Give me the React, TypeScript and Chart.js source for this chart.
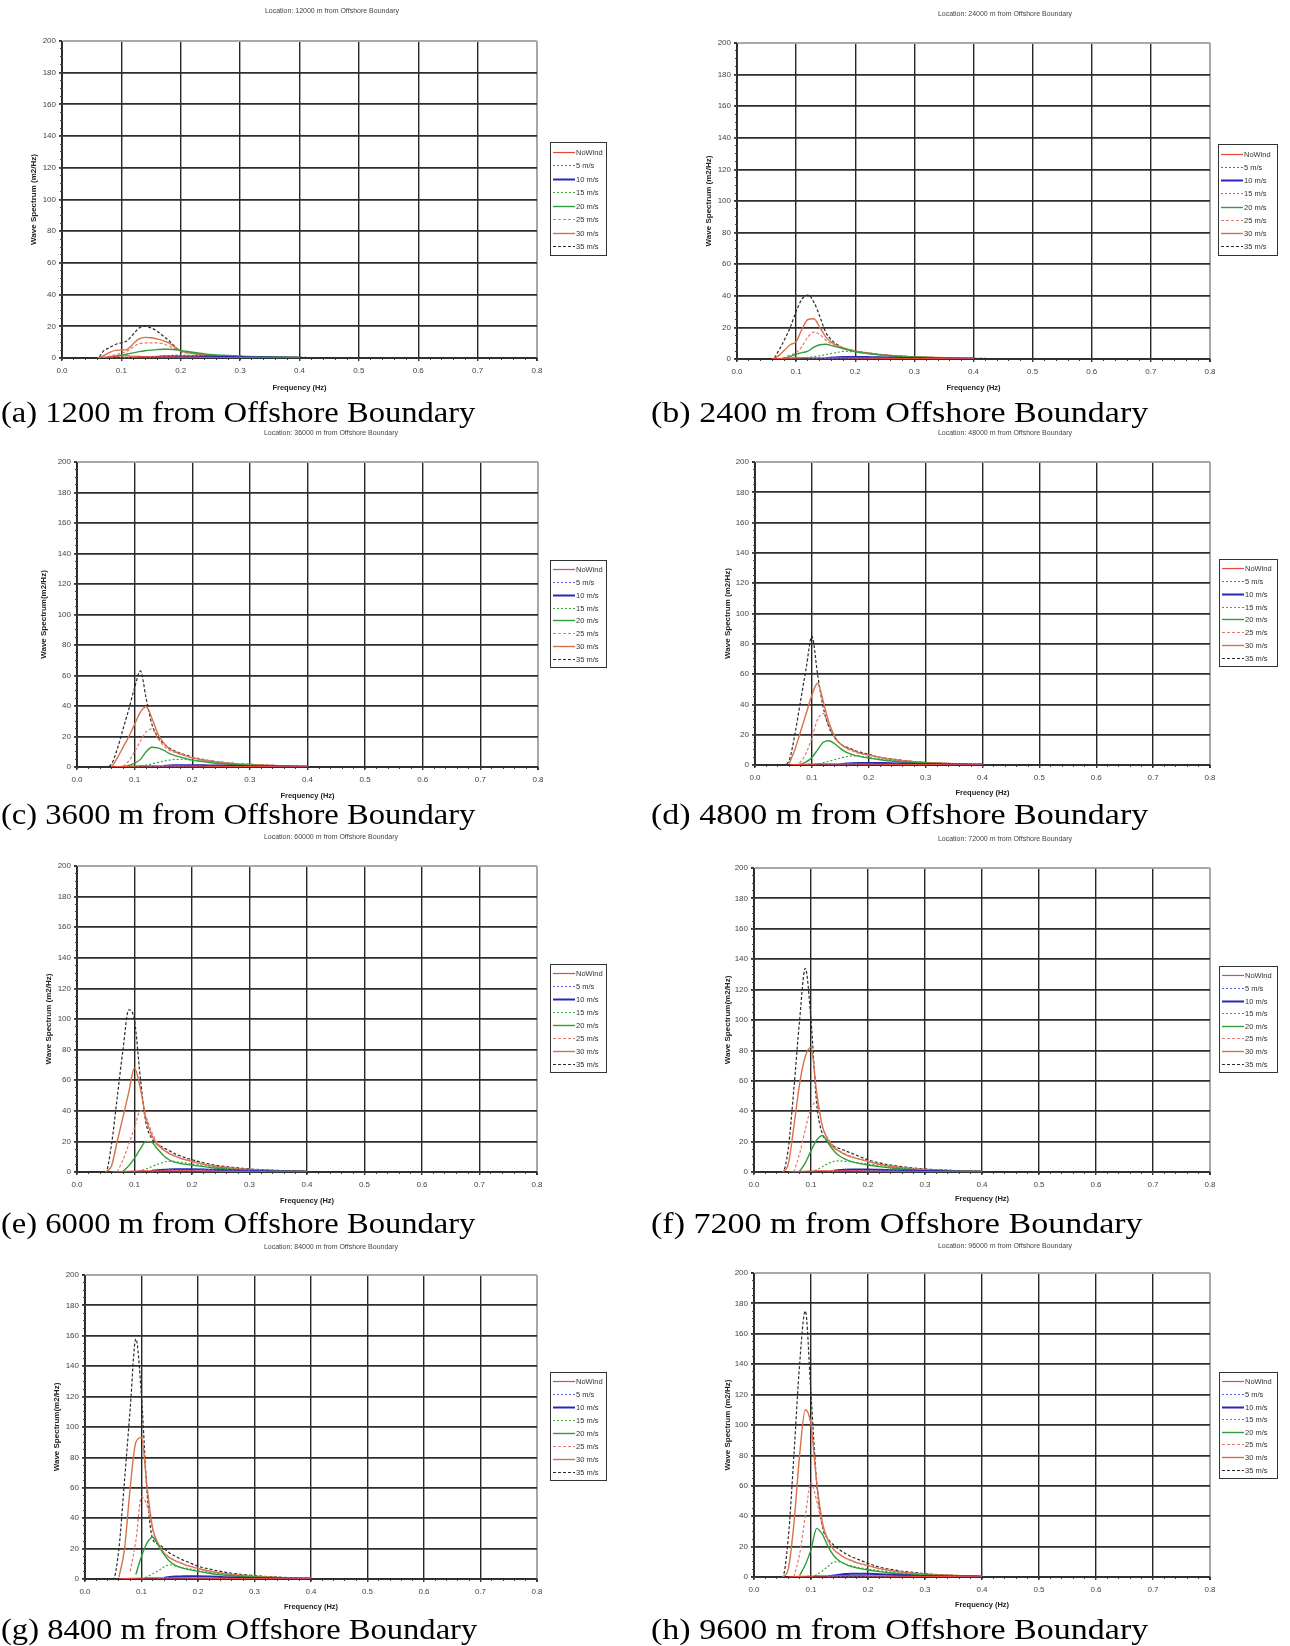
import React, { useEffect, useRef } from 'react';
import { Chart, registerables } from 'chart.js';

Chart.register(...registerables);

const _ = null;

// Frequency grid (Hz)
const FREQ = [0.03, 0.04, 0.05, 0.06, 0.07, 0.08, 0.09, 0.10, 0.11, 0.12, 0.13, 0.14, 0.15, 0.16, 0.17, 0.18, 0.20, 0.22, 0.24, 0.26, 0.28, 0.30, 0.35, 0.40, 0.45];
const SERIES_LABELS = ['NoWind', '5 m/s', '10 m/s', '15 m/s', '20 m/s', '25 m/s', '30 m/s', '35 m/s'];
const X_MIN = 0, X_MAX = 0.8, X_STEP = 0.1;
const Y_MIN = 0, Y_MAX = 200, Y_STEP = 20;

// (a) 12000 m
const A_NOWIND = [_, _, _, 0, 0.3, 0.8, 1.2, 1.4, 1.3, 1.1, 1, 0.9, 0.8, 0.8, 0.7, 0.7, 0.6, 0.5, 0.4, 0.3, 0.3, 0.2, 0.1, 0.1, _];
const A_5 = [_, _, _, _, _, _, _, _, _, 0.1, 0.1, 0.2, 0.2, 0.3, 0.3, 0.3, 0.3, 0.3, 0.3, 0.2, 0.2, 0.2, 0.1, 0.1, _];
const A_10 = [_, _, _, _, _, _, _, _, _, _, _, _, 0.3, 0.7, 0.9, 1, 1, 1, 0.9, 0.8, 0.6, 0.5, 0.3, 0.2, _];
const A_15 = [_, _, _, _, 0, 0, 0.1, 0.2, 0.3, 0.4, 0.5, 0.7, 0.9, 1.1, 1.3, 1.5, 1.8, 1.7, 1.5, 1.3, 1.1, 1, 0.6, 0.4, _];
const A_20 = [_, _, _, _, _, 0.3, 1, 1.8, 2.5, 3.2, 4, 4.6, 5, 5.3, 5.5, 5.5, 4.8, 3.6, 2.6, 2, 1.6, 1.2, 0.7, 0.4, _];
const A_25 = [_, _, _, 0, 0.5, 1.2, 2, 3, 4.5, 7, 9, 9.5, 9.6, 9.5, 9, 7.5, 4.5, 3, 2.2, 1.6, 1.2, 1, 0.6, 0.3, _];
const A_30 = [_, _, _, 0, 1.5, 3.5, 4.8, 5, 5.5, 9, 12, 13, 12.8, 12, 11, 9.5, 4.5, 3, 2, 1.5, 1.1, 0.9, 0.5, 0.3, _];
const A_35 = [0, 0, 0, 0, 4.5, 6.5, 8.5, 9.6, 11, 15, 19, 20, 19, 17, 14, 11, 4.3, 3, 2, 1.5, 1.2, 1, 0.6, 0.4, 0];

// (b) 24000 m
const B_NOWIND = [_, _, _, 0, 0.2, 0.4, 0.6, 0.7, 0.8, 0.8, 0.8, 0.8, 0.8, 0.8, 0.8, 0.8, 0.7, 0.6, 0.5, 0.4, 0.3, 0.3, 0.2, 0.1, _];
const B_5 = [_, _, _, _, _, _, _, _, _, 0.1, 0.2, 0.2, 0.3, 0.3, 0.4, 0.4, 0.4, 0.4, 0.3, 0.3, 0.3, 0.2, 0.1, 0.1, _];
const B_10 = [_, _, _, _, _, _, _, _, _, _, _, _, 0.5, 0.9, 1.1, 1.2, 1.3, 1.2, 1.1, 0.9, 0.7, 0.6, 0.3, 0.2, _];
const B_15 = [_, _, _, _, 0, 0.1, 0.3, 0.5, 0.7, 1, 1.5, 2, 2.7, 3.5, 4.2, 4.8, 4.6, 3.6, 2.7, 2.1, 1.6, 1.2, 0.7, 0.4, _];
const B_20 = [_, _, _, _, _, 0.5, 1.5, 3, 4, 5, 7.5, 9, 9.3, 8.5, 7.5, 6.5, 4.6, 3.5, 2.6, 2, 1.5, 1.2, 0.6, 0.3, _];
const B_25 = [_, _, _, 0, 0.3, 1, 2.5, 4, 8, 14, 17, 15.5, 12, 9.5, 8, 7, 5, 3.8, 2.9, 2.2, 1.7, 1.3, 0.8, 0.4, _];
const B_30 = [_, _, _, 0, 2, 5.5, 9, 11, 19, 25, 25.5, 20, 14, 10.5, 8.5, 7, 5, 3.8, 2.8, 2.2, 1.7, 1.3, 0.8, 0.4, _];
const B_35 = [0, 0, 0, 0, 5, 12, 20, 30, 38, 40.5, 36, 27, 17, 12, 9, 7, 5, 4, 3, 2.3, 1.8, 1.4, 0.8, 0.5, 0];

// (c) 36000 m
const C_NOWIND = [_, _, _, 0, 0.2, 0.4, 0.5, 0.6, 0.7, 0.7, 0.7, 0.7, 0.7, 0.7, 0.7, 0.7, 0.6, 0.5, 0.4, 0.3, 0.3, 0.2, 0.1, 0.1, _];
const C_5 = [_, _, _, _, _, _, _, _, _, 0.1, 0.2, 0.2, 0.3, 0.3, 0.3, 0.3, 0.3, 0.3, 0.3, 0.3, 0.2, 0.2, 0.1, 0.1, _];
const C_10 = [_, _, _, _, _, _, _, _, _, _, _, _, 0.6, 1, 1.1, 1.2, 1.2, 1.1, 1, 0.9, 0.7, 0.5, 0.3, 0.2, _];
const C_15 = [_, _, _, _, 0, 0, 0.1, 0.3, 0.6, 1.2, 2, 3, 3.8, 4.5, 5, 5, 4.5, 3.6, 2.8, 2.2, 1.7, 1.3, 0.7, 0.3, _];
const C_20 = [_, _, _, _, _, 0.2, 1, 2.5, 5, 10, 13, 12.5, 11, 9, 7.5, 6.5, 4.5, 3.5, 2.5, 2, 1.5, 1.2, 0.6, 0.3, _];
const C_25 = [_, _, _, _, _, 0.5, 4, 10, 17, 23, 25, 19, 14, 11, 9.5, 8.3, 6.2, 4.6, 3.5, 2.7, 2.1, 1.6, 0.9, 0.4, _];
const C_30 = [_, _, _, 0, 6, 13, 20, 28, 36, 39.5, 32, 22, 16, 12, 10, 8.5, 6, 4.5, 3.5, 2.7, 2.1, 1.6, 0.9, 0.4, _];
const C_35 = [0, 0, 0, 2, 12, 25, 38, 52, 63, 45, 28, 20, 15.5, 12.5, 10.5, 9, 6.5, 4.8, 3.6, 2.8, 2.2, 1.7, 0.9, 0.4, _];

// (d) 48000 m
const D_NOWIND = [_, _, _, 0, 0.2, 0.4, 0.5, 0.6, 0.7, 0.7, 0.7, 0.7, 0.7, 0.7, 0.7, 0.7, 0.6, 0.5, 0.4, 0.3, 0.3, 0.2, 0.1, 0.1, _];
const D_5 = [_, _, _, _, _, _, _, _, _, 0.1, 0.2, 0.3, 0.4, 0.4, 0.5, 0.5, 0.5, 0.4, 0.4, 0.3, 0.3, 0.2, 0.1, 0.1, _];
const D_10 = [_, _, _, _, _, _, _, _, _, _, _, _, 0.6, 1, 1.2, 1.3, 1.4, 1.3, 1.2, 1, 0.8, 0.6, 0.3, 0.2, _];
const D_15 = [_, _, _, _, 0, 0, 0.1, 0.3, 0.8, 1.5, 2.5, 3.5, 4.5, 5.5, 6, 6, 5, 4, 3, 2.3, 1.8, 1.4, 0.8, 0.4, _];
const D_20 = [_, _, _, _, _, 0.5, 2, 5, 10, 15, 16, 14, 11, 8.5, 7, 6, 4.5, 3.5, 2.6, 2, 1.6, 1.2, 0.6, 0.3, _];
const D_25 = [_, _, _, _, 0, 2, 8, 18, 30, 34, 26, 18, 14, 11, 9.5, 8, 6.5, 5, 3.8, 2.9, 2.2, 1.7, 0.9, 0.4, _];
const D_30 = [_, _, _, 1, 10, 22, 34, 46, 54, 42, 28, 19, 14, 11.5, 10, 8.5, 6.5, 5, 3.8, 2.9, 2.2, 1.7, 0.9, 0.4, _];
const D_35 = [0, 0, 0, 3, 20, 42, 64, 85, 60, 38, 25, 18, 14, 12, 10.5, 9, 7, 5, 4, 3, 2.2, 1.7, 0.9, 0.5, _];

// (e) 60000 m
const E_NOWIND = [_, _, _, 0, 0.2, 0.4, 0.5, 0.6, 0.7, 0.8, 0.8, 0.8, 0.8, 0.8, 0.8, 0.8, 0.7, 0.6, 0.5, 0.4, 0.3, 0.2, 0.1, 0.1, _];
const E_5 = [_, _, _, _, _, _, _, _, _, _, 0.3, 0.5, 1, 1.5, 1.8, 2, 2, 1.8, 1.5, 1.2, 0.9, 0.7, 0.4, 0.2, _];
const E_10 = [_, _, _, _, _, _, _, _, _, _, 0.8, 1.2, 1.5, 1.7, 1.8, 1.8, 1.8, 1.6, 1.4, 1.1, 0.9, 0.7, 0.4, 0.2, _];
const E_15 = [_, _, _, _, _, _, _, 0, 0.8, 2, 3.5, 5, 6.3, 7, 6.8, 6.3, 5.2, 4.2, 3.2, 2.5, 1.9, 1.5, 0.8, 0.4, _];
const E_20 = [_, _, _, _, _, 0.5, 4, 9, 15, 20, 19.5, 15, 11, 8, 6.5, 5.5, 4.5, 3.5, 2.6, 2, 1.5, 1.2, 0.6, 0.3, _];
const E_25 = [_, _, _, _, 0, 8, 18, 29, 40, 36, 26, 19, 15, 12.5, 10.5, 9, 7, 5.2, 4, 3, 2.3, 1.8, 0.9, 0.5, _];
const E_30 = [_, _, 0, 4, 20, 36, 52, 68, 55, 35, 24, 18, 14.5, 12, 10.5, 9, 7, 5, 3.8, 2.9, 2.2, 1.7, 0.9, 0.5, _];
const E_35 = [0, 0, 0, 18, 49, 80, 106, 99, 62, 32, 22, 18, 16, 14, 12, 10.5, 8, 6, 4.5, 3.5, 2.7, 2, 1, 0.5, _];

// (f) 72000 m
const F_NOWIND = [_, _, _, 0, 0.2, 0.4, 0.5, 0.6, 0.7, 0.7, 0.7, 0.7, 0.7, 0.7, 0.7, 0.7, 0.6, 0.5, 0.4, 0.3, 0.3, 0.2, 0.1, 0.1, _];
const F_5 = [_, _, _, _, _, _, _, _, _, _, 0.2, 0.4, 0.6, 0.8, 0.9, 1, 1, 0.9, 0.8, 0.6, 0.5, 0.4, 0.2, 0.1, _];
const F_10 = [_, _, _, _, _, _, _, _, _, _, _, 0.8, 1.3, 1.5, 1.6, 1.6, 1.6, 1.4, 1.2, 1, 0.8, 0.6, 0.3, 0.2, _];
const F_15 = [_, _, _, _, _, _, _, 0, 1.5, 3.5, 5.5, 7, 7.3, 7, 6.6, 6.2, 5.2, 4.2, 3.2, 2.5, 1.9, 1.5, 0.8, 0.4, _];
const F_20 = [_, _, _, _, _, 0.5, 6, 14, 21, 24, 19, 14, 10.5, 8.5, 7, 6, 4.6, 3.5, 2.6, 2, 1.5, 1.2, 0.6, 0.3, _];
const F_25 = [_, _, _, _, 0, 12, 28, 42, 46, 30, 22, 17, 14, 12, 10.5, 9, 7, 5.2, 4, 3, 2.3, 1.8, 0.9, 0.5, _];
const F_30 = [_, _, 0, 5, 30, 58, 76, 82, 52, 30, 21, 16, 13.5, 11.5, 10, 9, 7, 5, 3.8, 2.9, 2.2, 1.7, 0.9, 0.5, _];
const F_35 = [0, 0, 0, 15, 55, 100, 134, 100, 45, 25, 20, 17, 15.5, 14, 12.5, 11, 8, 6, 4.5, 3.5, 2.6, 2, 1, 0.5, _];

// (g) 84000 m
const G_NOWIND = [_, _, _, 0, 0.2, 0.4, 0.5, 0.6, 0.7, 0.7, 0.7, 0.7, 0.7, 0.7, 0.7, 0.7, 0.6, 0.5, 0.4, 0.3, 0.3, 0.2, 0.1, 0.1, _];
const G_5 = [_, _, _, _, _, _, _, _, _, _, 0.2, 0.3, 0.4, 0.5, 0.5, 0.5, 0.5, 0.4, 0.4, 0.3, 0.3, 0.2, 0.1, 0.1, _];
const G_10 = [_, _, _, _, _, _, _, _, _, _, _, 0.8, 1.3, 1.6, 1.7, 1.8, 1.8, 1.6, 1.3, 1, 0.8, 0.6, 0.3, 0.2, _];
const G_15 = [_, _, _, _, _, _, _, 0, 1.5, 3.5, 5.5, 8, 9.2, 8.5, 7.5, 7, 5.5, 4.4, 3.4, 2.6, 2, 1.6, 0.8, 0.4, _];
const G_20 = [_, _, _, _, _, _, 3, 15, 24, 27.5, 22, 16, 11.5, 9, 7.5, 6.5, 5, 3.8, 2.8, 2.1, 1.6, 1.2, 0.6, 0.3, _];
const G_25 = [_, _, _, _, _, 5, 25, 54, 48, 32, 22, 17, 14, 12, 10.5, 9, 7, 5.2, 4, 3, 2.3, 1.8, 0.9, 0.5, _];
const G_30 = [_, _, _, 1, 20, 60, 90, 93, 60, 33, 23, 17, 14, 12, 10.5, 9, 7, 5.2, 4, 3, 2.3, 1.8, 0.9, 0.5, _];
const G_35 = [0, 0, 0, 20, 65, 112, 158, 120, 56, 26, 23, 20, 17, 15, 13, 11.5, 8.5, 6.5, 5, 3.8, 2.9, 2.2, 1.1, 0.5, _];

// (h) 96000 m
const H_NOWIND = [_, _, _, 0, 0.2, 0.4, 0.5, 0.6, 0.7, 0.8, 0.8, 0.8, 0.9, 0.9, 0.9, 0.9, 0.8, 0.7, 0.6, 0.5, 0.4, 0.3, 0.2, 0.1, _];
const H_5 = [_, _, _, _, _, _, _, _, _, _, 0.2, 0.3, 0.4, 0.5, 0.5, 0.5, 0.5, 0.4, 0.4, 0.3, 0.3, 0.2, 0.1, 0.1, _];
const H_10 = [_, _, _, _, _, _, _, _, _, _, 0.5, 1, 1.5, 1.9, 2.1, 2.2, 2.1, 1.8, 1.5, 1.2, 0.9, 0.7, 0.4, 0.2, _];
const H_15 = [_, _, _, _, _, _, _, 0, 1.5, 4, 7, 9.8, 10, 8.5, 7.5, 6.5, 5.2, 4.2, 3.2, 2.5, 1.9, 1.5, 0.8, 0.4, _];
const H_20 = [_, _, _, _, _, 1, 8, 18, 32, 28, 20, 14, 10.5, 8.5, 7, 6, 4.6, 3.5, 2.6, 2, 1.5, 1.2, 0.6, 0.3, _];
const H_25 = [_, _, _, _, 0, 15, 40, 62, 50, 34, 24, 18, 15, 12.5, 11, 9.5, 7.5, 5.5, 4.2, 3.2, 2.4, 1.9, 1, 0.5, _];
const H_30 = [_, _, 0, 5, 35, 80, 110, 100, 62, 36, 24, 18, 15, 12.5, 11, 9.5, 7.5, 5.5, 4.2, 3.2, 2.4, 1.9, 1, 0.5, _];
const H_35 = [0, 0, 0, 25, 80, 140, 175, 120, 62, 33, 25, 21, 18, 15.5, 13.5, 12, 9, 6.5, 5, 3.8, 3, 2.2, 1.1, 0.5, _];

// Series styles
const SERIES_COLORS = ['#e8463c', '#5a5aef', '#2828b4', '#3aa83a', '#2f9e3a', '#e8786a', '#d9704a', '#2b2b2b'];
const SERIES_DASH = [[], [2, 2], [], [2, 2], [], [3, 2], [], [3, 2]];
const SERIES_WIDTH = [1.2, 1.2, 2, 1.2, 1.4, 1.2, 1.4, 1.2];

const FONT = '"Liberation Sans", Arial, sans-serif';

const PANELS = [
  { title: 'Location: 12000 m from Offshore Boundary', caption: '(a) 1200 m from Offshore Boundary', yTitle: 'Wave Spectrum (m2/Hz)', col: 0,
    L: 62, R: 537, T: 41, B: 358, titleX: 332, titleY: 11, yTitleX: 34, xTitleY: 388, lx: 550, ly: 142, lw: 57, lh: 114, capY: 397,
    series: [A_NOWIND, A_5, A_10, A_15, A_20, A_25, A_30, A_35] },
  { title: 'Location: 24000 m from Offshore Boundary', caption: '(b) 2400 m from Offshore Boundary', yTitle: 'Wave Spectrum (m2/Hz)', col: 1,
    L: 737, R: 1210, T: 43, B: 359, titleX: 1005, titleY: 14, yTitleX: 709, xTitleY: 388, lx: 1218, ly: 144, lw: 60, lh: 112, capY: 397,
    series: [B_NOWIND, B_5, B_10, B_15, B_20, B_25, B_30, B_35] },
  { title: 'Location: 36000 m from Offshore Boundary', caption: '(c) 3600 m from Offshore Boundary', yTitle: 'Wave Spectrum(m2/Hz)', col: 0,
    L: 77, R: 538, T: 462, B: 767, titleX: 331, titleY: 433, yTitleX: 44, xTitleY: 796, lx: 550, ly: 560, lw: 57, lh: 108, capY: 799,
    series: [C_NOWIND, C_5, C_10, C_15, C_20, C_25, C_30, C_35] },
  { title: 'Location: 48000 m from Offshore Boundary', caption: '(d) 4800 m from Offshore Boundary', yTitle: 'Wave Spectrum (m2/Hz)', col: 1,
    L: 755, R: 1210, T: 462, B: 765, titleX: 1005, titleY: 433, yTitleX: 728, xTitleY: 793, lx: 1219, ly: 559, lw: 59, lh: 108, capY: 799,
    series: [D_NOWIND, D_5, D_10, D_15, D_20, D_25, D_30, D_35] },
  { title: 'Location: 60000 m from Offshore Boundary', caption: '(e) 6000 m from Offshore Boundary', yTitle: 'Wave Spectrum (m2/Hz)', col: 0,
    L: 77, R: 537, T: 866, B: 1172, titleX: 331, titleY: 837, yTitleX: 49, xTitleY: 1201, lx: 550, ly: 964, lw: 57, lh: 109, capY: 1208,
    series: [E_NOWIND, E_5, E_10, E_15, E_20, E_25, E_30, E_35] },
  { title: 'Location: 72000 m from Offshore Boundary', caption: '(f) 7200 m from Offshore Boundary', yTitle: 'Wave Spectrum(m2/Hz)', col: 1,
    L: 754, R: 1210, T: 868, B: 1172, titleX: 1005, titleY: 839, yTitleX: 728, xTitleY: 1199, lx: 1219, ly: 966, lw: 59, lh: 107, capY: 1208,
    series: [F_NOWIND, F_5, F_10, F_15, F_20, F_25, F_30, F_35] },
  { title: 'Location: 84000 m from Offshore Boundary', caption: '(g) 8400 m from Offshore Boundary', yTitle: 'Wave Spectrum(m2/Hz)', col: 0,
    L: 85, R: 537, T: 1275, B: 1579, titleX: 331, titleY: 1247, yTitleX: 57, xTitleY: 1607, lx: 550, ly: 1372, lw: 57, lh: 109, capY: 1614,
    series: [G_NOWIND, G_5, G_10, G_15, G_20, G_25, G_30, G_35] },
  { title: 'Location: 96000 m from Offshore Boundary', caption: '(h) 9600 m from Offshore Boundary', yTitle: 'Wave Spectrum (m2/Hz)', col: 1,
    L: 754, R: 1210, T: 1273, B: 1577, titleX: 1005, titleY: 1246, yTitleX: 728, xTitleY: 1605, lx: 1219, ly: 1372, lw: 59, lh: 107, capY: 1614,
    series: [H_NOWIND, H_5, H_10, H_15, H_20, H_25, H_30, H_35] },
];

const decorPlugin = {
  id: 'decor',
  afterDraw(chart: any, _args: any, opts: any) {
    const ctx = chart.ctx;
    ctx.save();
    // chart title
    ctx.font = `7px ${FONT}`;
    ctx.fillStyle = '#444';
    ctx.textAlign = 'center';
    ctx.textBaseline = 'middle';
    ctx.fillText(opts.title, opts.titleX, opts.titleY);
    // legend
    const { lx, ly, lw, lh } = opts;
    ctx.fillStyle = '#fff';
    ctx.fillRect(lx, ly, lw, lh);
    ctx.strokeStyle = '#333';
    ctx.lineWidth = 1;
    ctx.strokeRect(lx + 0.5, ly + 0.5, lw - 1, lh - 1);
    const ds = chart.data.datasets;
    const padY = 3;
    const rowH = (lh - 2 * padY) / ds.length;
    ctx.font = `7.5px ${FONT}`;
    ds.forEach((d: any, i: number) => {
      const y = Math.round(ly + padY + rowH * (i + 0.5)) + 0.5;
      ctx.strokeStyle = d.borderColor;
      ctx.lineWidth = d.borderWidth;
      ctx.setLineDash(d.borderDash || []);
      ctx.beginPath();
      ctx.moveTo(lx + 3, y);
      ctx.lineTo(lx + 25, y);
      ctx.stroke();
      ctx.setLineDash([]);
      ctx.fillStyle = '#333';
      ctx.textAlign = 'left';
      ctx.textBaseline = 'middle';
      ctx.fillText(d.label, lx + 26, y);
    });
    ctx.restore();
  },
};

function Panel({ p }: { p: any }) {
  const ref = useRef<HTMLCanvasElement | null>(null);
  const cl = p.col === 0 ? 0 : 645;
  const cw = p.col === 0 ? 640 : 645;
  const ct = p.titleY - 12;
  const ch = p.xTitleY + 8 - ct;

  useEffect(() => {
    const lh = 8 * 1.2;
    const padLeft = p.yTitleX - cl - lh / 2;
    const yw = p.L - cl - padLeft;
    const padRight = cl + cw - p.R;
    const padTop = p.T - ct;
    const xh = p.xTitleY + lh / 2 + 2 - p.B;
    const padBottom = ct + ch - (p.B + xh);

    const datasets = SERIES_LABELS.map((label, si) => ({
      label,
      data: FREQ.map((f, i) => ({ x: f, y: p.series[si][i] })),
      borderColor: SERIES_COLORS[si],
      backgroundColor: SERIES_COLORS[si],
      borderDash: SERIES_DASH[si],
      borderWidth: SERIES_WIDTH[si],
      pointRadius: 0,
      fill: false,
      spanGaps: false,
      cubicInterpolationMode: 'monotone' as const,
      xAxisID: 'x',
      yAxisID: 'y',
    }));

    const chart = new Chart(ref.current as HTMLCanvasElement, {
      type: 'line',
      data: { datasets },
      plugins: [decorPlugin],
      options: {
        animation: false,
        responsive: false,
        devicePixelRatio: 1,
        layout: { padding: { left: padLeft, right: padRight, top: padTop, bottom: padBottom } },
        plugins: {
          legend: { display: false },
          title: { display: false },
          tooltip: { enabled: false },
          decor: {
            title: p.title, titleX: p.titleX - cl, titleY: p.titleY - ct,
            lx: p.lx - cl, ly: p.ly - ct, lw: p.lw, lh: p.lh,
          },
        } as any,
        scales: {
          x: {
            type: 'linear', position: 'bottom', weight: 1,
            min: X_MIN, max: X_MAX,
            afterFit: (s: any) => { s.height = xh; },
            ticks: {
              stepSize: X_STEP, autoSkip: false, maxRotation: 0, padding: 4.7,
              font: { family: FONT, size: 8 }, color: '#444',
              callback: (v: any) => Number(v).toFixed(1),
            },
            grid: {
              color: (c: any) => (c.tick && Math.abs(c.tick.value - X_MAX) < 1e-6 ? '#a8a8a8' : '#262626'),
              lineWidth: (c: any) => (c.tick && Math.abs(c.tick.value - X_MAX) < 1e-6 ? 2 : 1.4),
              tickLength: 3, tickColor: '#333',
            },
            border: { color: '#333', width: 1 },
            title: { display: true, text: 'Frequency (Hz)', font: { family: FONT, size: 7.5, weight: 'bold' }, color: '#222', padding: { top: 0, bottom: 2 } },
          },
          xMinor: {
            type: 'linear', position: 'bottom', weight: 0,
            min: X_MIN, max: X_MAX,
            afterFit: (s: any) => { s.height = 0; },
            ticks: { stepSize: 0.02, display: false },
            grid: { drawOnChartArea: false, tickLength: 2, color: '#444', lineWidth: 1 },
            border: { display: false },
          },
          y: {
            type: 'linear', position: 'left', weight: 1,
            min: Y_MIN, max: Y_MAX,
            afterFit: (s: any) => { s.width = yw; },
            ticks: { stepSize: Y_STEP, padding: 3, font: { family: FONT, size: 8 }, color: '#444' },
            grid: {
              color: (c: any) => (c.tick && c.tick.value === Y_MAX ? '#a8a8a8' : '#2e2e2e'),
              lineWidth: (c: any) => (c.tick && c.tick.value === Y_MAX ? 2 : 1.8),
              tickLength: 3, tickColor: '#333',
            },
            border: { color: '#333', width: 1 },
            title: { display: true, text: p.yTitle, font: { family: FONT, size: 8, weight: 'bold' }, color: '#222', padding: { top: 0, bottom: 0 } },
          },
          yMinor: {
            type: 'linear', position: 'left', weight: 0,
            min: Y_MIN, max: Y_MAX,
            afterFit: (s: any) => { s.width = 0; },
            ticks: { stepSize: 5, display: false },
            grid: { drawOnChartArea: false, tickLength: 2, color: '#444', lineWidth: 1 },
            border: { display: false },
          },
        },
      } as any,
    });
    return () => chart.destroy();
  }, []);

  return (
    <canvas
      ref={ref}
      width={cw}
      height={ch}
      style={{ position: 'absolute', left: cl, top: ct, width: cw, height: ch }}
    />
  );
}

export default function App() {
  return (
    <div style={{ position: 'absolute', left: 0, top: 0, width: 1290, height: 1646, background: '#fff', overflow: 'hidden' }}>
      {PANELS.map((p, i) => (
        <Panel key={i} p={p} />
      ))}
      {PANELS.map((p, i) => (
        <div
          key={'c' + i}
          style={{
            position: 'absolute',
            left: p.col === 0 ? 1 : 651,
            top: p.capY,
            fontFamily: '"Liberation Serif", "Times New Roman", serif',
            fontSize: 30,
            lineHeight: '30px',
            whiteSpace: 'nowrap',
            color: '#000',
            transform: p.col === 0 ? 'scaleX(1.086)' : 'scaleX(1.134)',
            transformOrigin: 'left center',
          }}
        >
          {p.caption}
        </div>
      ))}
    </div>
  );
}
